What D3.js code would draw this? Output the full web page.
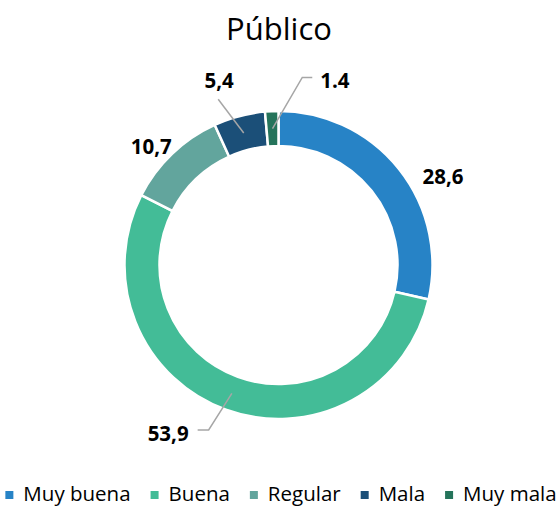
<!DOCTYPE html>
<html>
<head>
<meta charset="utf-8">
<script src="https://cdn.jsdelivr.net/npm/d3@7/dist/d3.min.js"></script>
<style>
  html, body { margin: 0; padding: 0; background: #fff; }
  svg { display: block; }
</style>
</head>
<body>
<svg id="chart" width="556" height="508"></svg>
<script>
// ---- data ----
const title = "Público";
const categories = ["Muy buena", "Buena", "Regular", "Mala", "Muy mala"];
const values = [28.6, 53.9, 10.7, 5.4, 1.4];
const labelTexts = ["28,6", "53,9", "10,7", "5,4", "1.4"];

// ---- style / layout ----
const colors = ["#2783C6", "#43BC97", "#62A59D", "#1B4F78", "#25745B"];
// label placement in polar form (degrees clockwise from top, radius in px)
const labelAngles = [61.6, 213.3, 313.0, 342.2, 17.0];
const labelRadii = [187, 201, 174, 194, 193];
// leader type: none, straight, elbow
const leaderTypes = ["none", "elbow", "none", "straight", "elbow"];

const W = 556, H = 508;
const cx = 278.5, cy = 265;
const outerR = 154, innerR = 119;
const FONT = "'Open Sans', 'Noto Sans', sans-serif";

const svg = d3.select("#chart");

svg.append("text")
  .attr("x", 279).attr("y", 40)
  .attr("text-anchor", "middle")
  .attr("font-family", FONT)
  .attr("font-size", 31)
  .attr("fill", "#000")
  .text(title);

const data = categories.map((c, i) => ({ cat: c, value: values[i], label: labelTexts[i], i }));

const pie = d3.pie().value(d => d.value).sort(null);
const arcs = pie(data);
const arc = d3.arc().innerRadius(innerR).outerRadius(outerR);
const midArc = d3.arc().innerRadius((innerR + outerR) / 2).outerRadius((innerR + outerR) / 2);

const g = svg.append("g").attr("transform", `translate(${cx},${cy})`);

g.selectAll("path.slice")
  .data(arcs)
  .join("path")
  .attr("class", "slice")
  .attr("d", arc)
  .attr("fill", d => colors[d.data.i])
  .attr("stroke", "#fff")
  .attr("stroke-width", 2.5)
  .attr("stroke-linejoin", "miter");

function polar(angDeg, r) {
  const a = angDeg * Math.PI / 180;
  return [r * Math.sin(a), -r * Math.cos(a)];
}

const labelFont = 20.5;
const labelsG = g.append("g");

arcs.forEach(d => {
  const i = d.data.i;
  const [lx, ly] = polar(labelAngles[i], labelRadii[i]);
  const t = labelsG.append("text")
    .attr("x", lx).attr("y", ly)
    .attr("text-anchor", "middle")
    .attr("dominant-baseline", "central")
    .attr("font-family", FONT)
    .attr("font-weight", "bold")
    .attr("font-size", labelFont)
    .attr("fill", "#000")
    .text(d.data.label);
  const bb = t.node().getBBox();
  const [sx, sy] = midArc.centroid(d);
  let pts = null;
  if (leaderTypes[i] === "straight") {
    pts = [[sx, sy], [lx - 1, bb.y + bb.height + 5]];
  } else if (leaderTypes[i] === "elbow") {
    const ey = ly - 3;
    if (lx > sx) {
      const left = bb.x;
      pts = [[sx, sy], [left - 18, ey], [left - 8, ey]];
    } else {
      const right = bb.x + bb.width;
      pts = [[sx, sy], [right + 20, ey], [right + 9, ey]];
    }
  }
  if (pts) {
    labelsG.insert("path", "text")
      .attr("d", d3.line()(pts))
      .attr("fill", "none")
      .attr("stroke", "#A6A6A6")
      .attr("stroke-width", 1.5);
  }
});

// ---- legend ----
const legFont = 20.5;
const sq = 8, sqGap = 10, itemGap = 20;
const leg = svg.append("g");
let x = 0;
const items = [];
categories.forEach((c, i) => {
  const it = leg.append("g");
  it.append("rect")
    .attr("x", 0).attr("y", -sq / 2 - 6)
    .attr("width", sq).attr("height", sq)
    .attr("fill", colors[i]);
  const tx = it.append("text")
    .attr("x", sq + sqGap).attr("y", 0)
    .attr("font-family", FONT)
    .attr("font-size", legFont)
    .attr("fill", "#000")
    .text(c);
  const w = sq + sqGap + tx.node().getComputedTextLength();
  items.push({ it, w });
});
const total = d3.sum(items, d => d.w) + itemGap * (items.length - 1);
x = 281 - total / 2;
items.forEach(d => {
  d.it.attr("transform", `translate(${x},501)`);
  x += d.w + itemGap;
});
</script>
</body>
</html>
